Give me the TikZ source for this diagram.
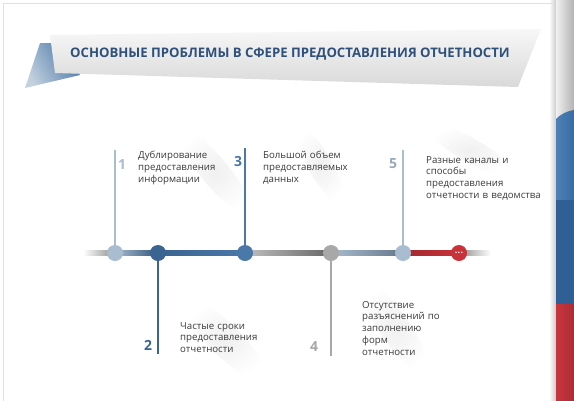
\documentclass[tikz,border=0pt]{standalone}
\usepackage{fontspec}
\setmainfont{Open Sans}
\usetikzlibrary{fadings}
\definecolor{txt}{HTML}{3A3A3A}
\definecolor{titleblue}{HTML}{2F5079}
\definecolor{c1}{HTML}{A9BCD0}
\definecolor{c2}{HTML}{3A6491}
\definecolor{c3}{HTML}{4A78A9}
\definecolor{c4}{HTML}{A8A8A8}
\definecolor{cred}{HTML}{C9323A}
\definecolor{sbluel}{HTML}{4C80B6}
\definecolor{sbluer}{HTML}{3A6CA3}
\definecolor{sblued}{HTML}{2F5F94}
\definecolor{sred}{HTML}{C9353D}
\begin{document}
\begin{tikzpicture}[x=1bp,y=-1bp,
  dot/.style={circle,minimum size=16bp,inner sep=0,fill=#1},
  num/.style={font=\fontsize{14}{14}\bfseries\selectfont,text=#1,inner sep=0},
  desc/.style={font=\fontsize{9.7}{11.9}\selectfont,text=txt,align=left,text width=140bp,inner sep=0,anchor=base west},
  stem/.style={draw=#1,line width=2bp},
  glow/.style={inner color=black!6,outer color=white}]
\useasboundingbox (0,0) rectangle (574,400);
\fill[white] (0,0) rectangle (574,400);
% faint shadows behind the texts
\shade[glow,rotate around={-50:(215,172)}] (215,172) ellipse (55 and 14);
\shade[glow,rotate around={-60:(320,165)}] (320,165) ellipse (45 and 12);
\shade[glow,rotate around={-30:(470,150)}] (470,150) ellipse (50 and 12);
\shade[glow,rotate around={-45:(225,340)}] (225,340) ellipse (55 and 16);
\shade[glow,rotate around={-55:(395,328)}] (395,328) ellipse (55 and 15);
% panel border and shadow
\shade[left color=white,right color=black!20] (549,0) rectangle (556,400);
\draw[black!12,line width=0.8bp] (3,402) -- (3,3) -- (553,3);
% right strip
\shade[left color=black!6,right color=black!30] (556,0) rectangle (574,118);
\shade[left color=sbluel,right color=sbluer] (556,119) .. controls (562,113) and (568,111) .. (574,110) -- (574,200) -- (556,200) -- cycle;
\fill[sblued] (556,200) rectangle (574,304);
\shade[left color=sred,right color=sred!85!black] (556,304) rectangle (574,400);
% banner
\shade[left color=c1!70!white,right color=c3,shading angle=120] (40,43) -- (62,43) -- (80,75) -- (25,88) -- cycle;
\shade[top color=black!3,bottom color=black!15] (50,35) -- (541,29) -- (518,87) -- (55,73) -- cycle;
\node[font=\fontsize{13.2}{13.2}\bfseries\selectfont,text=titleblue,inner sep=0] (title) at (290,54) {ОСНОВНЫЕ ПРОБЛЕМЫ В СФЕРЕ ПРЕДОСТАВЛЕНИЯ ОТЧЕТНОСТИ};
% timeline segments
\shade[left color=white,right color=black!45] (83,250.5) rectangle (115,255.5);
\shade[left color=c1,right color=c2!85!black] (115,250.5) rectangle (158,255.5);
\shade[left color=c2,right color=c3] (158,250.5) rectangle (245,255.5);
\shade[left color=black!25,right color=black!60] (245,250.5) rectangle (331,255.5);
\shade[left color=c1,right color=c2!60!black!70] (331,250.5) rectangle (403,255.5);
\shade[left color=cred!80!black,right color=cred] (403,250.5) rectangle (459,255.5);
\shade[left color=black!45,right color=white] (459,250.5) rectangle (491,255.5);
% circles
\node[dot=c1] (p1) at (115,253) {};
\node[dot=c2] (p2) at (158,253) {};
\node[dot=c3] (p3) at (245,253) {};
\node[dot=c4] (p4) at (331,253) {};
\node[dot=c1] (p5) at (403,253) {};
\node[dot=cred,text=white,font=\fontsize{9}{9}\bfseries\selectfont] (p6) at (459,253) {.\kern0.4bp.\kern0.4bp.};
% stems
\coordinate (t1) at (115,150);
\coordinate (t2) at (158,354);
\coordinate (t3) at (245,148);
\coordinate (t4) at (331,356);
\coordinate (t5) at (403,150);
\draw[stem=c1] (p1) -- (t1);
\draw[stem=c2] (p2) -- (t2);
\draw[stem=c3] (p3) -- (t3);
\draw[stem=c4] (p4) -- (t4);
\draw[stem=c1] (p5) -- (t5);
% numbers
\node[num=c1] (n1) at (122,165) {1};
\node[num=c2] (n2) at (148,345) {2};
\node[num=c3] (n3) at (238,162) {3};
\node[num=c4] (n4) at (314,347) {4};
\node[num=c1!90!black] (n5) at (393,164) {5};
% texts
\node[desc] (d1) at (138,158.5) {Дублирование\\предоставления\\информации};
\node[desc] (d2) at (180,329) {Частые сроки\\предоставления\\отчетности};
\node[desc] (d3) at (263,158.5) {Большой объем\\предоставляемых\\данных};
\node[desc] (d4) at (362,308) {Отсутствие\\разъяснений по\\заполнению\\форм\\отчетности};
\node[desc] (d5) at (426,163) {Разные каналы и\\способы\\предоставления\\отчетности в ведомства};
\end{tikzpicture}
\end{document}
